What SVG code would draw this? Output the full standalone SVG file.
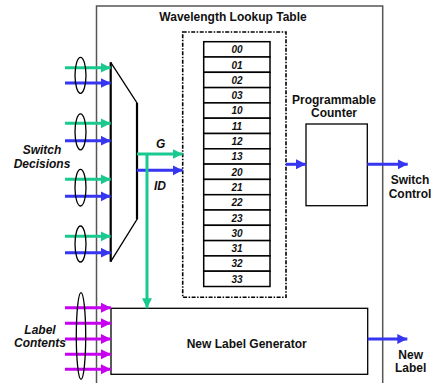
<svg xmlns="http://www.w3.org/2000/svg" width="431" height="383" viewBox="0 0 431 383">
<style>
text{font-family:"Liberation Sans",Arial,sans-serif;font-weight:bold;fill:#111}
.it{font-style:italic}
.lbl{font-size:12px}
.row{font-size:10px;font-style:italic;text-anchor:middle}
.g{stroke:#19C98F;stroke-width:3;fill:none}
.b{stroke:#3535F2;stroke-width:3;fill:none}
.m{stroke:#C800F2;stroke-width:3;fill:none}
.ell{fill:none;stroke:#000;stroke-width:1.3}
.cell{fill:#fff;stroke:#000;stroke-width:1.5}
</style>
<defs>
<marker id="ag" markerUnits="userSpaceOnUse" markerWidth="11" markerHeight="11" refX="10" refY="5" orient="auto"><path d="M0,0L10,5L0,10z" fill="#19C98F"/></marker>
<marker id="ab" markerUnits="userSpaceOnUse" markerWidth="11" markerHeight="11" refX="10" refY="5" orient="auto"><path d="M0,0L10,5L0,10z" fill="#3535F2"/></marker>
<marker id="am" markerUnits="userSpaceOnUse" markerWidth="11" markerHeight="11" refX="10" refY="5" orient="auto"><path d="M0,0L10,5L0,10z" fill="#C800F2"/></marker>
</defs>
<rect width="431" height="383" fill="#fff"/>

<g id="mainbox">
<path d="M96.5,390V6H382.7V390" fill="none" stroke="#555" stroke-width="1.5"/>
<text class="lbl" x="233" y="20.5" text-anchor="middle">Wavelength Lookup Table</text>
</g>

<g id="lookup">
<rect x="182.7" y="32" width="103.3" height="265.3" fill="none" stroke="#000" stroke-width="1.6" stroke-dasharray="4,1.5,1.5,1.5"/>
<g id="table">
<rect class="cell" x="203.7" y="41.7" width="66.3" height="15.3"/>
<rect class="cell" x="203.7" y="57" width="66.3" height="15.3"/>
<rect class="cell" x="203.7" y="72.3" width="66.3" height="15.3"/>
<rect class="cell" x="203.7" y="87.6" width="66.3" height="15.3"/>
<rect class="cell" x="203.7" y="102.9" width="66.3" height="15.3"/>
<rect class="cell" x="203.7" y="118.2" width="66.3" height="15.3"/>
<rect class="cell" x="203.7" y="133.5" width="66.3" height="15.3"/>
<rect class="cell" x="203.7" y="148.8" width="66.3" height="15.3"/>
<rect class="cell" x="203.7" y="164.1" width="66.3" height="15.3"/>
<rect class="cell" x="203.7" y="179.4" width="66.3" height="15.3"/>
<rect class="cell" x="203.7" y="194.7" width="66.3" height="15.3"/>
<rect class="cell" x="203.7" y="210" width="66.3" height="15.3"/>
<rect class="cell" x="203.7" y="225.3" width="66.3" height="15.3"/>
<rect class="cell" x="203.7" y="240.6" width="66.3" height="15.3"/>
<rect class="cell" x="203.7" y="255.9" width="66.3" height="15.3"/>
<rect class="cell" x="203.7" y="271.2" width="66.3" height="15.3"/>
<text class="row" x="237" y="53.2">00</text>
<text class="row" x="237" y="68.5">01</text>
<text class="row" x="237" y="83.8">02</text>
<text class="row" x="237" y="99.1">03</text>
<text class="row" x="237" y="114.4">10</text>
<text class="row" x="237" y="129.7">11</text>
<text class="row" x="237" y="145">12</text>
<text class="row" x="237" y="160.3">13</text>
<text class="row" x="237" y="175.6">20</text>
<text class="row" x="237" y="190.9">21</text>
<text class="row" x="237" y="206.2">22</text>
<text class="row" x="237" y="221.5">23</text>
<text class="row" x="237" y="236.8">30</text>
<text class="row" x="237" y="252.1">31</text>
<text class="row" x="237" y="267.4">32</text>
<text class="row" x="237" y="282.7">33</text>
</g>
</g>

<g id="mux">
<path d="M110.7,62.3L137,103V219.3L110.7,261.7" fill="none" stroke="#000" stroke-width="1.3"/>
<path d="M110.7,62.3V261.7M137,103V219.3" fill="none" stroke="#000" stroke-width="2.2"/>
</g>

<g id="counter">
<rect x="306" y="124" width="61.3" height="81.7" fill="#fff" stroke="#000" stroke-width="1.3"/>
<text class="lbl" x="334" y="103.5" text-anchor="middle">Programmable</text>
<text class="lbl" x="334" y="117" text-anchor="middle">Counter</text>
</g>

<g id="generator">
<rect x="111" y="308.3" width="256.7" height="66" fill="#fff" stroke="#000" stroke-width="1.3"/>
<text class="lbl" x="246.7" y="347.5" text-anchor="middle">New Label Generator</text>
</g>

<g id="labels">
<text class="lbl it" x="42" y="153.5" text-anchor="middle">Switch</text>
<text class="lbl it" x="42" y="167.5" text-anchor="middle">Decisions</text>
<text class="lbl it" x="40" y="333.5" text-anchor="middle">Label</text>
<text class="lbl it" x="40" y="347" text-anchor="middle">Contents</text>
<text class="lbl it" x="156" y="148">G</text>
<text class="lbl it" x="154" y="190">ID</text>
<text class="lbl" x="410" y="183.5" text-anchor="middle">Switch</text>
<text class="lbl" x="410" y="198" text-anchor="middle">Control</text>
<text class="lbl" x="410.7" y="358.5" text-anchor="middle">New</text>
<text class="lbl" x="410.7" y="372" text-anchor="middle">Label</text>
</g>

<g id="connectors">
<path class="g" d="M65,67.7H110.7" marker-end="url(#ag)"/>
<path class="b" d="M65,83H110.7" marker-end="url(#ab)"/>
<path class="g" d="M65,123.3H110.7" marker-end="url(#ag)"/>
<path class="b" d="M65,140.7H110.7" marker-end="url(#ab)"/>
<path class="g" d="M65,179.3H110.7" marker-end="url(#ag)"/>
<path class="b" d="M65,196.3H110.7" marker-end="url(#ab)"/>
<path class="g" d="M65,236.3H110.7" marker-end="url(#ag)"/>
<path class="b" d="M65,252.7H110.7" marker-end="url(#ab)"/>
<path class="m" d="M65,307.7H111" marker-end="url(#am)"/>
<path class="m" d="M65,323.3H111" marker-end="url(#am)"/>
<path class="m" d="M65,339H111" marker-end="url(#am)"/>
<path class="m" d="M65,354.3H111" marker-end="url(#am)"/>
<path class="m" d="M65,369.3H111" marker-end="url(#am)"/>
<path class="g" d="M137,154H182.7" marker-end="url(#ag)"/>
<path class="b" d="M137,170.3H182.7" marker-end="url(#ab)"/>
<path class="g" d="M147,154V308.3" marker-end="url(#ag)"/>
<path class="b" d="M286,164.3H306" marker-end="url(#ab)"/>
<path class="b" d="M367.3,164.3H407.7" marker-end="url(#ab)"/>
<path class="b" d="M367.7,339H407.3" marker-end="url(#ab)"/>
<ellipse class="ell" cx="80.5" cy="75.3" rx="5.5" ry="18"/>
<ellipse class="ell" cx="80.5" cy="131.8" rx="5.5" ry="18"/>
<ellipse class="ell" cx="80.5" cy="187.7" rx="5.5" ry="18.3"/>
<ellipse class="ell" cx="80.5" cy="244" rx="5.5" ry="18"/>
<ellipse class="ell" cx="81" cy="336" rx="4.7" ry="43.3"/>
</g>
</svg>
